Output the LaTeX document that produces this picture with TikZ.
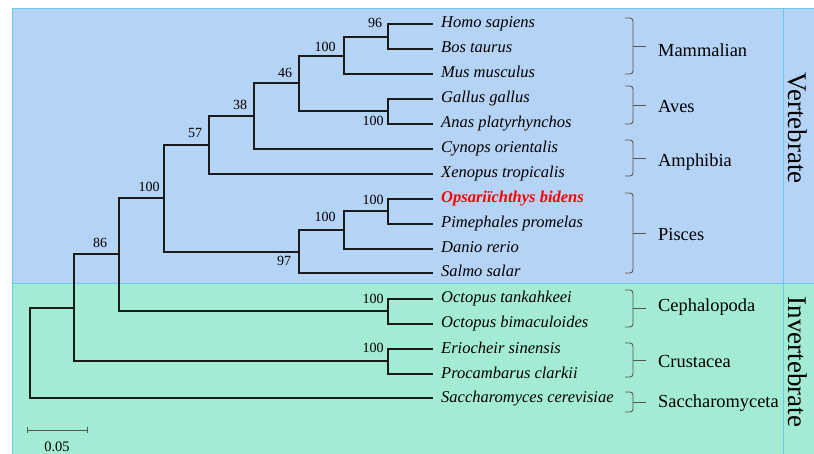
\documentclass[tikz,border=0pt]{standalone}
\usepackage{fontspec}
\setmainfont{Liberation Serif}
\definecolor{vbg}{HTML}{B5D3F5}
\definecolor{ibg}{HTML}{A3EBD5}
\definecolor{edgecol}{HTML}{6CC8E8}
\definecolor{treecol}{HTML}{1A1A1A}
\definecolor{optred}{HTML}{FF0000}
\definecolor{bracegray}{HTML}{555555}
\newcommand\joinkids[3]{\draw[branch] (#2) -- (#2 -| #1) -- (#3 -| #1) -- (#3);}
\begin{document}
\begin{tikzpicture}[x=1pt,y=-1pt,
  branch/.style={line width=1.4pt, draw=treecol},
  leaf/.style={anchor=west, inner xsep=8pt, inner ysep=0pt, text height=12pt, text depth=4pt, font=\fontsize{16.5}{18}\selectfont\itshape},
  boot/.style={inner sep=0pt, font=\fontsize{14}{16}\selectfont},
  grp/.style={anchor=west, inner sep=0pt, text height=12pt, text depth=0pt, font=\fontsize{18.4}{20}\selectfont},
  bracecol/.style={draw=bracegray, line width=0.9pt, rounded corners=3pt},
  side/.style={rotate=-90, inner sep=0pt, font=\fontsize{27}{30}\selectfont}]
\useasboundingbox (0,0) rectangle (814,454);
% backgrounds
\fill[vbg] (12,9) rectangle (814,284);
\fill[ibg] (12,284) rectangle (814,454);
\draw[edgecol, line width=1pt] (814,9) -- (12,9) -- (12,454);
\draw[edgecol, line width=1pt] (12,284) -- (814,284);
\draw[edgecol, line width=1pt] (783,9) -- (783,454);
% leaves
\node[leaf] (homo) at (433,24) {Homo sapiens};
\node[leaf] (bos) at (433,49) {Bos taurus};
\node[leaf] (mus) at (433,74) {Mus musculus};
\node[leaf] (gallus) at (433,99) {Gallus gallus};
\node[leaf] (anas) at (433,124) {Anas platyrhynchos};
\node[leaf] (cynops) at (433,149) {Cynops orientalis};
\node[leaf] (xenopus) at (433,174) {Xenopus tropicalis};
\node[leaf, text=optred, font=\fontsize{16.5}{18}\selectfont\bfseries\itshape] (opsa) at (433,199) {Opsariïchthys bidens};
\node[leaf] (pime) at (433,224) {Pimephales promelas};
\node[leaf] (danio) at (433,249) {Danio rerio};
\node[leaf] (salmo) at (433,273) {Salmo salar};
\node[leaf] (octt) at (433,299) {Octopus tankahkeei};
\node[leaf] (octb) at (433,324) {Octopus bimaculoides};
\node[leaf] (erio) at (433,349) {Eriocheir sinensis};
\node[leaf] (proc) at (433,374) {Procambarus clarkii};
\node[leaf] (sacc) at (433,398) {Saccharomyces cerevisiae};
% internal nodes
\coordinate (n1) at (388,37);
\coordinate (n2) at (344,56);
\coordinate (n3) at (388,111);
\coordinate (n4) at (299,83);
\coordinate (n5) at (254,116);
\coordinate (n6) at (209,145);
\coordinate (n7) at (388,211);
\coordinate (n8) at (344,230);
\coordinate (n9) at (299,252);
\coordinate (n10) at (164,198);
\coordinate (n11) at (388,311);
\coordinate (n12) at (119,254);
\coordinate (n13) at (388,361);
\coordinate (n14) at (74,308);
\coordinate (root) at (30,353);
% branches
\joinkids{n1}{homo.west}{bos.west}
\joinkids{n2}{n1}{mus.west}
\joinkids{n3}{gallus.west}{anas.west}
\joinkids{n4}{n2}{n3}
\joinkids{n5}{n4}{cynops.west}
\joinkids{n6}{n5}{xenopus.west}
\joinkids{n7}{opsa.west}{pime.west}
\joinkids{n8}{n7}{danio.west}
\joinkids{n9}{n8}{salmo.west}
\joinkids{n10}{n6}{n9}
\joinkids{n11}{octt.west}{octb.west}
\joinkids{n12}{n10}{n11}
\joinkids{n13}{erio.west}{proc.west}
\joinkids{n14}{n12}{n13}
\joinkids{root}{n14}{sacc.west}
% bootstrap values
\node[boot] (b1) at (375,23) {96};
\node[boot] (b2) at (325,47) {100};
\node[boot] (b3) at (285,73) {46};
\node[boot] (b4) at (240,105) {38};
\node[boot] (b5) at (195,133) {57};
\node[boot] (b6) at (149,187) {100};
\node[boot] (b7) at (100,243) {86};
\node[boot] (b8) at (373,121) {100};
\node[boot] (b9) at (373,200) {100};
\node[boot] (b10) at (325,217) {100};
\node[boot] (b11) at (284,261) {97};
\node[boot] (b12) at (373,299) {100};
\node[boot] (b13) at (373,348) {100};
% group braces
\foreach \t/\b/\ly/\nm/\lab in {18/74/50.5/gm/Mammalian, 86/124/107/ga/Aves, 140/176/160.5/gam/Amphibia, 193/273/234.5/gp/Pisces, 290/327/305.5/gc/Cephalopoda, 343/377/361.5/gcr/Crustacea, 392/412/401.5/gs/Saccharomyceta}{
  \draw[bracecol] (625,\t) -- (633,\t) -- (633,\b) -- (625,\b);
  \draw[bracecol] (633,{(\t+\b)/2}) -- (646,{(\t+\b)/2});
  \node[grp] (\nm) at (658,\ly) {\lab};
}
% side labels
\node[side] (vert) at (798,128) {Vertebrate};
\node[side] (invert) at (798,362) {Invertebrate};
% scale bar
\coordinate (sb1) at (27,430);
\coordinate (sb2) at (87,430);
\draw[bracegray, line width=0.9pt] (sb1) -- (sb2);
\draw[bracegray, line width=0.9pt] ([yshift=-3pt]sb1) -- ([yshift=3pt]sb1);
\draw[bracegray, line width=0.9pt] ([yshift=-3pt]sb2) -- ([yshift=3pt]sb2);
\node[boot, font=\fontsize{14.5}{16}\selectfont] (sbl) at (57,447) {0.05};
\end{tikzpicture}
\end{document}
